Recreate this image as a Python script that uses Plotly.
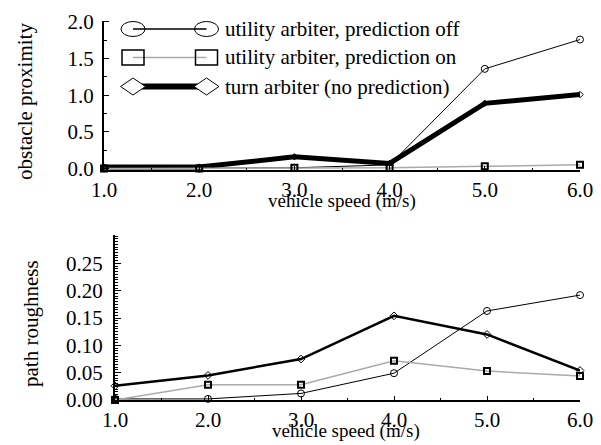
import plotly.graph_objects as go

W, H = 601, 445

speeds = [1.0, 2.0, 3.0, 4.0, 5.0, 6.0]
tick_labels = ["1.0", "2.0", "3.0", "4.0", "5.0", "6.0"]

series_names = ["utility arbiter, prediction off",
                "utility arbiter, prediction on",
                "turn arbiter (no prediction)"]

prox_util_off = [0.0, 0.0, 0.01, 0.05, 1.36, 1.76]
prox_util_on = [0.0, 0.0, 0.01, 0.01, 0.03, 0.05]
prox_turn = [0.02, 0.02, 0.16, 0.07, 0.89, 1.01]

rough_util_off = [0.002, 0.002, 0.012, 0.049, 0.163, 0.192]
rough_util_on = [0.0, 0.028, 0.028, 0.072, 0.053, 0.044]
rough_turn = [0.026, 0.045, 0.075, 0.154, 0.120, 0.054]

FONT = "Liberation Serif"
GRAY = "#aaaaaa"
TXT = 21


def px(x):
    return x / W


def py(y):
    return 1 - y / H


fig = go.Figure()

# ---- top panel ----
fig.add_trace(go.Scatter(x=speeds, y=prox_util_off, name=series_names[0], mode="lines+markers",
                         line=dict(color="black", width=1),
                         marker=dict(symbol="circle-open", size=7, color="black", line=dict(width=1)),
                         xaxis="x", yaxis="y", showlegend=False, cliponaxis=False))
fig.add_trace(go.Scatter(x=speeds, y=prox_turn, name=series_names[2], mode="lines+markers",
                         line=dict(color="black", width=5),
                         marker=dict(symbol="diamond-open", size=5, color="black", line=dict(width=1)),
                         xaxis="x", yaxis="y", showlegend=False, cliponaxis=False))
fig.add_trace(go.Scatter(x=speeds, y=prox_util_on, name=series_names[1], mode="lines+markers",
                         line=dict(color=GRAY, width=1.5),
                         marker=dict(symbol="square-open", size=6, color="black", line=dict(width=2)),
                         xaxis="x", yaxis="y", showlegend=False, cliponaxis=False))

# ---- bottom panel ----
fig.add_trace(go.Scatter(x=speeds, y=rough_util_off, name=series_names[0], mode="lines+markers",
                         line=dict(color="black", width=1),
                         marker=dict(symbol="circle-open", size=7, color="black", line=dict(width=1)),
                         xaxis="x2", yaxis="y2", showlegend=False, cliponaxis=False))
fig.add_trace(go.Scatter(x=speeds, y=rough_util_on, name=series_names[1], mode="lines+markers",
                         line=dict(color=GRAY, width=1.5),
                         marker=dict(symbol="square-open", size=6, color="black", line=dict(width=2)),
                         xaxis="x2", yaxis="y2", showlegend=False, cliponaxis=False))
fig.add_trace(go.Scatter(x=speeds, y=rough_turn, name=series_names[2], mode="lines+markers",
                         line=dict(color="black", width=2.5),
                         marker=dict(symbol="diamond-open", size=6, color="black", line=dict(width=1)),
                         xaxis="x2", yaxis="y2", showlegend=False, cliponaxis=False))

axis_common = dict(showgrid=False, zeroline=False, showline=True, linecolor="black", linewidth=2,
                   ticks="inside", tickcolor="black", tickwidth=1, automargin=False,
                   tickfont=dict(family=FONT, size=TXT, color="black"))

fig.update_layout(
    width=W, height=H,
    margin=dict(l=0, r=0, t=0, b=0, autoexpand=False),
    paper_bgcolor="white", plot_bgcolor="white",
    font=dict(family=FONT, color="black"),
    xaxis=dict(domain=[px(104), px(580)], range=[1, 6], anchor="y",
               tickvals=speeds, ticktext=tick_labels, ticklen=4,
               minor=dict(dtick=0.5, ticklen=2, ticks="inside", tickcolor="black"),
               **axis_common),
    yaxis=dict(domain=[py(170), py(20.5)], range=[-0.02, 2.02], anchor="x",
               tickvals=[0, 0.5, 1.0, 1.5, 2.0], ticktext=["0.0", "0.5", "1.0", "1.5", "2.0"],
               ticklen=5, ticklabelstandoff=4,
               minor=dict(dtick=0.25, ticklen=3, ticks="inside", tickcolor="black"),
               **axis_common),
    xaxis2=dict(domain=[px(115), px(580)], range=[1, 6], anchor="y2",
                tickvals=speeds, ticktext=tick_labels, ticklen=4,
                minor=dict(dtick=0.5, ticklen=2, ticks="inside", tickcolor="black"),
                **axis_common),
    yaxis2=dict(domain=[py(400), py(235)], range=[0, 0.302], anchor="x2",
                tickvals=[0, 0.05, 0.10, 0.15, 0.20, 0.25],
                ticktext=["0.00", "0.05", "0.10", "0.15", "0.20", "0.25"],
                ticklen=6, ticklabelstandoff=6,
                minor=dict(dtick=0.005, ticklen=3, ticks="inside", tickcolor="black"),
                **axis_common),
)

# axis titles
title_font_y = dict(family=FONT, size=21, color="black")
title_font_x = dict(family=FONT, size=19, color="black")
fig.add_annotation(text="obstacle proximity", x=px(25), y=py(102), xref="paper", yref="paper",
                   xanchor="center", yanchor="middle", textangle=-90, showarrow=False, font=title_font_y)
fig.add_annotation(text="vehicle speed (m/s)", x=px(342), y=py(201), xref="paper", yref="paper",
                   xanchor="center", yanchor="middle", showarrow=False, font=title_font_x)
fig.add_annotation(text="path roughness", x=px(31), y=py(324), xref="paper", yref="paper",
                   xanchor="center", yanchor="middle", textangle=-90, showarrow=False, font=title_font_y)
fig.add_annotation(text="vehicle speed (m/s)", x=px(346), y=py(431), xref="paper", yref="paper",
                   xanchor="center", yanchor="middle", showarrow=False, font=title_font_x)

# custom legend (two markers joined by a line, like the original)
rows = [29, 57.5, 86.5]
xl, xr = 133, 206.5
fig.add_shape(type="line", x0=px(xl), x1=px(xr), y0=py(rows[0]), y1=py(rows[0]),
              xref="paper", yref="paper", line=dict(color="black", width=1.5))
fig.add_shape(type="line", x0=px(xl), x1=px(xr), y0=py(rows[1]), y1=py(rows[1]),
              xref="paper", yref="paper", line=dict(color=GRAY, width=1.5))
fig.add_shape(type="path",
              path=f"M {px(xl)},{py(rows[2])} L {px(xr)},{py(rows[2])}",
              xref="paper", yref="paper", line=dict(color="black", width=6))
for cx in (xl, xr):
    fig.add_shape(type="circle", x0=px(cx - 12), x1=px(cx + 12), y0=py(rows[0] + 7.5), y1=py(rows[0] - 7.5),
                  xref="paper", yref="paper", line=dict(color="black", width=1), fillcolor="rgba(0,0,0,0)")
    fig.add_shape(type="rect", x0=px(cx - 11), x1=px(cx + 11), y0=py(rows[1] + 7.5), y1=py(rows[1] - 7.5),
                  xref="paper", yref="paper", line=dict(color="black", width=1.5), fillcolor="rgba(0,0,0,0)")
    r = rows[2]
    fig.add_shape(type="path",
                  path=(f"M {px(cx - 12.5)},{py(r)} L {px(cx)},{py(r - 8.5)} "
                        f"L {px(cx + 12.5)},{py(r)} L {px(cx)},{py(r + 8.5)} Z"),
                  xref="paper", yref="paper", line=dict(color="black", width=1), fillcolor="white")
for name, r in zip(series_names, rows):
    fig.add_annotation(text=name, x=px(223), y=py(r), xref="paper", yref="paper",
                       xanchor="left", yanchor="middle", showarrow=False,
                       font=dict(family=FONT, size=TXT, color="black"))

fig.write_html("out.html", config={"displayModeBar": False},
               post_script="document.body.style.margin='0px';")
